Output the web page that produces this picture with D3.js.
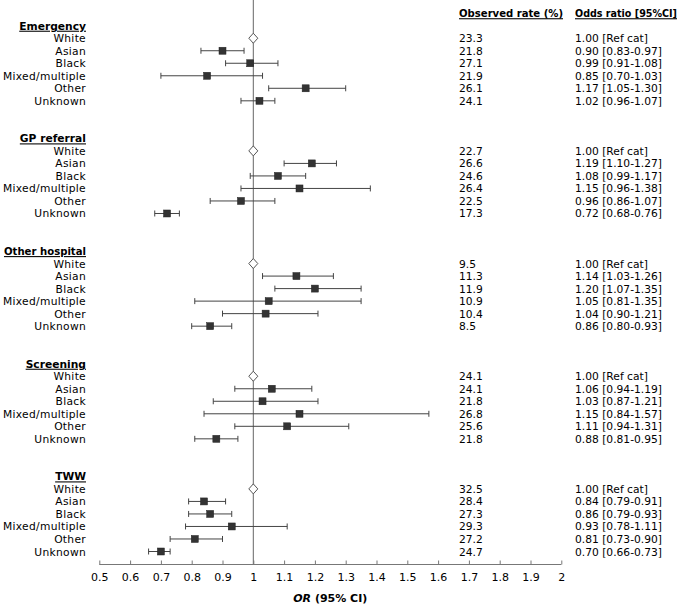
<!DOCTYPE html>
<html><head><meta charset="utf-8">
<script src="https://cdn.jsdelivr.net/npm/d3@7"></script>
<style>body{margin:0;background:#fff}svg{display:block}text{font-family:"DejaVu Sans",sans-serif;fill:#000}</style>
</head><body><svg id="c" width="683" height="608"></svg>
<script>
const groups = ["Emergency","GP referral","Other hospital","Screening","TWW"];
const ethnicities = ["White","Asian","Black","Mixed/multiple","Other","Unknown"];
// per group, per ethnicity: observed rate
const rates = [
  [23.3,21.8,27.1,21.9,26.1,24.1],
  [22.7,26.6,24.6,26.4,22.5,17.3],
  [9.5,11.3,11.9,10.9,10.4,8.5],
  [24.1,24.1,21.8,26.8,25.6,21.8],
  [32.5,28.4,27.3,29.3,27.2,24.7]
];
const orVals = [
  [1.00,0.90,0.99,0.85,1.17,1.02],
  [1.00,1.19,1.08,1.15,0.96,0.72],
  [1.00,1.14,1.20,1.05,1.04,0.86],
  [1.00,1.06,1.03,1.15,1.11,0.88],
  [1.00,0.84,0.86,0.93,0.81,0.70]
];
const ciLow = [
  [null,0.83,0.91,0.70,1.05,0.96],
  [null,1.10,0.99,0.96,0.86,0.68],
  [null,1.03,1.07,0.81,0.90,0.80],
  [null,0.94,0.87,0.84,0.94,0.81],
  [null,0.79,0.79,0.78,0.73,0.66]
];
const ciHigh = [
  [null,0.97,1.08,1.03,1.30,1.07],
  [null,1.27,1.17,1.38,1.07,0.76],
  [null,1.26,1.35,1.35,1.21,0.93],
  [null,1.19,1.21,1.57,1.31,0.95],
  [null,0.91,0.93,1.11,0.90,0.73]
];
const xTicks = [0.5,0.6,0.7,0.8,0.9,1,1.1,1.2,1.3,1.4,1.5,1.6,1.7,1.8,1.9,2];

const svg = d3.select("#c");
const x = d3.scaleLinear().domain([0.5,2]).range([99.3,561.3]);
const rowsPerGroup = 9;
const nRows = (groups.length-1)*rowsPerGroup + 7;
const y = d3.scaleLinear().domain([0, nRows-1]).range([25.7, 551.5]);
const axisY = 564.5;
const fs = 10.7;
const dy = 4.0;

// place a text at (px,py), squeezing it horizontally if wider than maxW
function placeFit(txt, px, py, maxW, anchor){
  const g = svg.append("g");
  const t = g.append("text").attr("font-weight","bold").attr("font-size",fs)
    .attr("text-decoration","underline").attr("text-anchor",anchor).text(txt);
  const w = t.node().getComputedTextLength();
  const k = w > maxW ? maxW / w : 1;
  g.attr("transform",`translate(${px},${py}) scale(${k},1)`);
  return g;
}

// reference line
svg.append("line").attr("x1",x(1)).attr("x2",x(1)).attr("y1",0).attr("y2",axisY)
  .attr("stroke","#666").attr("stroke-width",1);

// column headers
placeFit("Observed rate (%)", 459, y(-1)+dy, 104, "start");
placeFit("Odds ratio [95%CI]", 575, y(-1)+dy, 102, "start");

const fmt = d3.format(".2f");
groups.forEach((g,gi)=>{
  const base = gi*rowsPerGroup;
  placeFit(g, 86, y(base)+dy, 82, "end");
  ethnicities.forEach((e,ei)=>{
    const r = base+1+ei, cy = y(r);
    svg.append("text").attr("x",86).attr("y",cy+dy).attr("text-anchor","end").attr("font-size",fs)
      .attr("letter-spacing",0.3).text(e);
    svg.append("text").attr("x",459).attr("y",cy+dy).attr("font-size",fs).text(rates[gi][ei].toFixed(1));
    const lo = ciLow[gi][ei], hi = ciHigh[gi][ei], v = orVals[gi][ei];
    const s = lo==null ? fmt(v)+" [Ref cat]" : fmt(v)+" ["+fmt(lo)+"-"+fmt(hi)+"]";
    svg.append("text").attr("x",575).attr("y",cy+dy).attr("font-size",fs).text(s);
    if(lo==null){
      const cx = x(v);
      svg.append("path").attr("d",`M${cx},${cy-5}L${cx+4.5},${cy}L${cx},${cy+5}L${cx-4.5},${cy}Z`)
        .attr("fill","#fff").attr("stroke","#555").attr("stroke-width",1);
    } else {
      const eb = svg.append("g").attr("stroke","#444").attr("stroke-width",1);
      eb.append("line").attr("x1",x(lo)).attr("x2",x(hi)).attr("y1",cy).attr("y2",cy);
      eb.append("line").attr("x1",x(lo)).attr("x2",x(lo)).attr("y1",cy-3).attr("y2",cy+3);
      eb.append("line").attr("x1",x(hi)).attr("x2",x(hi)).attr("y1",cy-3).attr("y2",cy+3);
      svg.append("rect").attr("x",x(v)-3.5).attr("y",cy-3.5).attr("width",7).attr("height",7)
        .attr("fill","#333").attr("stroke","#222").attr("stroke-width",0.5);
    }
  });
});

// x axis
const axis = d3.axisBottom(x).tickValues(xTicks).tickSize(-4).tickPadding(9).tickFormat(d=>String(d));
const ax = svg.append("g").attr("transform",`translate(0,${axisY})`).call(axis);
ax.select(".domain").attr("stroke","#777").attr("d",`M${x(0.5)},0H${x(2)}`);
ax.selectAll(".tick line").attr("stroke","#777");
ax.selectAll(".tick text").attr("font-size",11).attr("fill","#000").attr("font-family","'DejaVu Sans',sans-serif");

const t = svg.append("text").attr("x",x(1.25)).attr("y",602).attr("text-anchor","middle")
  .attr("font-size",11).attr("font-weight","bold");
t.append("tspan").attr("font-style","italic").text("OR");
t.append("tspan").text(" (95% CI)");
</script></body></html>
